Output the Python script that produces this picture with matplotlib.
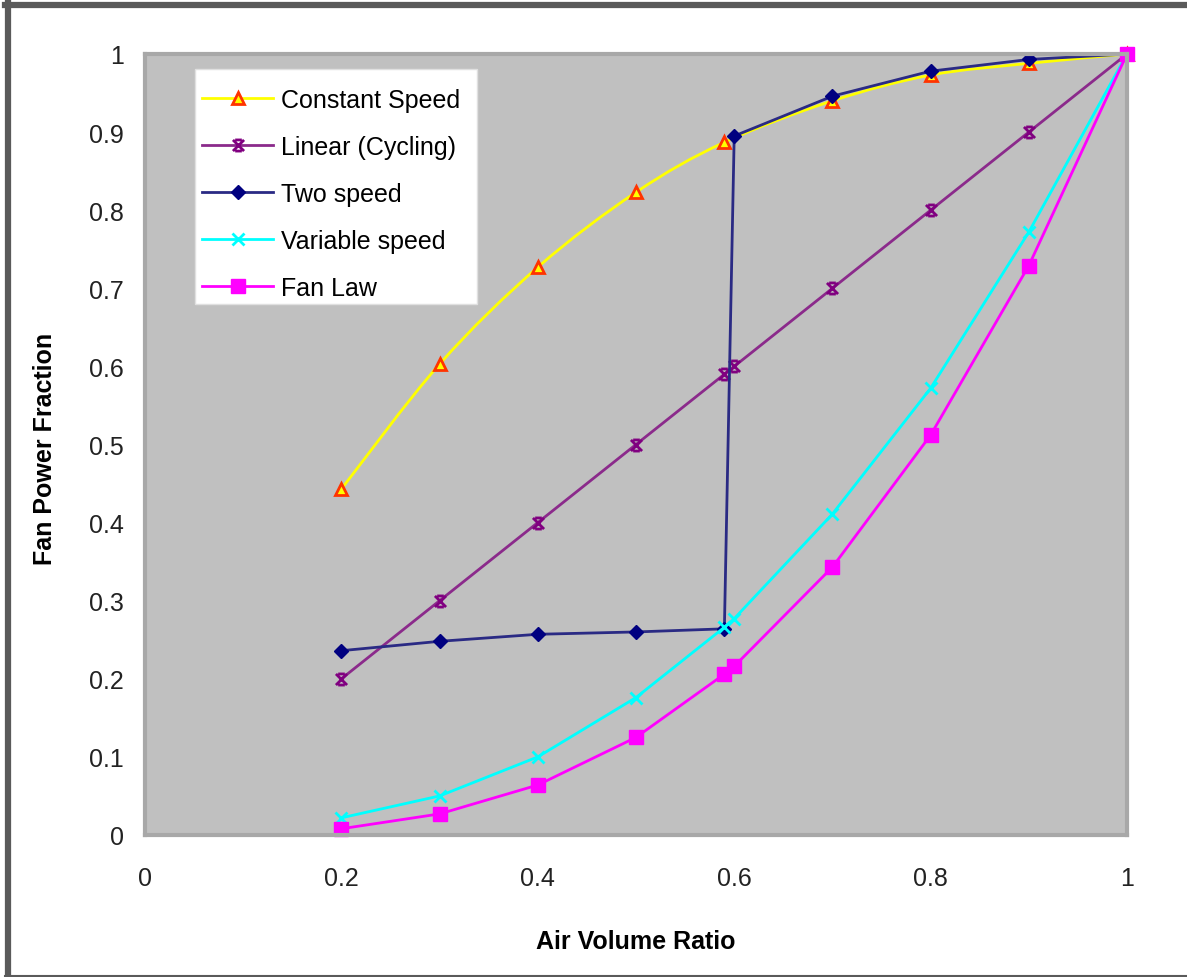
import numpy as np
import matplotlib
matplotlib.use("Agg")
import matplotlib.pyplot as plt
from matplotlib.lines import Line2D
from matplotlib.path import Path
from matplotlib.patches import PathPatch, Rectangle

plt.rcParams['font.family'] = ['Liberation Sans', 'DejaVu Sans']

# --- data ---
x_const = [0.2, 0.3, 0.4, 0.5, 0.59, 0.7, 0.8, 0.9, 1.0]
y_const = [0.443, 0.603, 0.727, 0.823, 0.887, 0.940, 0.973, 0.988, 1.0]

x_lin = [0.2, 0.3, 0.4, 0.5, 0.59, 0.6, 0.7, 0.8, 0.9, 1.0]
y_lin = [0.2, 0.3, 0.4, 0.5, 0.59, 0.6, 0.7, 0.8, 0.9, 1.0]

x_two = [0.2, 0.3, 0.4, 0.5, 0.59, 0.6, 0.7, 0.8, 0.9, 1.0]
y_two = [0.236, 0.248, 0.257, 0.260, 0.264, 0.895, 0.946, 0.978, 0.993, 1.0]

x_var = [0.2, 0.3, 0.4, 0.5, 0.59, 0.6, 0.7, 0.8, 0.9, 1.0]
y_var = [0.022, 0.050, 0.100, 0.176, 0.266, 0.277, 0.411, 0.572, 0.772, 1.0]

x_fan = [0.2, 0.3, 0.4, 0.5, 0.59, 0.6, 0.7, 0.8, 0.9, 1.0]
y_fan = [0.008, 0.027, 0.064, 0.125, 0.206, 0.216, 0.343, 0.512, 0.729, 1.0]

labels = ["Constant Speed", "Linear (Cycling)", "Two speed", "Variable speed", "Fan Law"]
xticks = [0, 0.2, 0.4, 0.6, 0.8, 1]
xticklabels = ["0", "0.2", "0.4", "0.6", "0.8", "1"]
yticks = [0, 0.1, 0.2, 0.3, 0.4, 0.5, 0.6, 0.7, 0.8, 0.9, 1]
yticklabels = ["0", "0.1", "0.2", "0.3", "0.4", "0.5", "0.6", "0.7", "0.8", "0.9", "1"]

# Excel style "star" marker: X with bars top and bottom
star = Path([(-1, -1), (1, 1), (-1, 1), (1, -1), (-0.6, 1), (0.6, 1), (-0.6, -1), (0.6, -1)],
            [Path.MOVETO, Path.LINETO, Path.MOVETO, Path.LINETO,
             Path.MOVETO, Path.LINETO, Path.MOVETO, Path.LINETO])


def smooth_path(xs, ys):
    # Excel-like smoothed line: cubic bezier through the points
    p = np.column_stack([xs, ys])
    ext = np.vstack([p[0], p, p[-1]])
    verts = [p[0]]
    codes = [Path.MOVETO]
    for i in range(len(p) - 1):
        c1 = ext[i + 1] + (ext[i + 2] - ext[i]) / 6
        c2 = ext[i + 2] - (ext[i + 3] - ext[i + 1]) / 6
        verts += [c1, c2, p[i + 1]]
        codes += [Path.CURVE4] * 3
    return Path(verts, codes)


W, H = 1187, 978
L, R, T, B = 145, 1127, 55, 836  # plot area in pixels
fig = plt.figure(figsize=(W / 100, H / 100), dpi=100)
fig.patch.set_facecolor("white")
ax = fig.add_axes([L / W, 1 - B / H, (R - L) / W, (B - T) / H])
ax.set_facecolor("#c0c0c0")


def px(x, y):
    # pixel position -> axes fraction
    return (x - L) / (R - L), (B - y) / (B - T)


lw = 2.0
styles = [
    dict(color="#ffff00", lw=lw, marker="^", ms=8, mfc="#ffff00", mec="#ff3300", mew=2),
    dict(color="#8b2a8b", lw=lw, marker=star, ms=8, mec="#800080", mew=2),
    dict(color="#2a2a84", lw=lw, marker="D", ms=7.5, mfc="#000080", mec="#000080"),
    dict(color="#00ffff", lw=lw, marker="x", ms=9, mec="#00ffff", mew=2),
    dict(color="#ff00ff", lw=lw, marker="s", ms=9.5, mfc="#ff00ff", mec="#ff00ff"),
]

# constant speed: smoothed line, markers on top
ax.add_patch(PathPatch(smooth_path(x_const, y_const), fill=False,
                       edgecolor=styles[0]["color"], lw=lw, clip_on=False))
st = dict(styles[0]); st.pop("color"); st.pop("lw")
ax.plot(x_const, y_const, ls="none", clip_on=False, **st)

ax.plot(x_lin, y_lin, clip_on=False, **styles[1])
ax.plot(x_two, y_two, clip_on=False, **styles[2])
ax.plot(x_var, y_var, clip_on=False, **styles[3])
ax.plot(x_fan, y_fan, clip_on=False, **styles[4])

ax.set_xlim(0, 1)
ax.set_ylim(0, 1)
ax.set_xticks(xticks)
ax.set_xticklabels(xticklabels)
ax.set_yticks(yticks)
ax.set_yticklabels(yticklabels)
ax.tick_params(axis="both", length=0, labelsize=18, colors="#222222")
ax.tick_params(axis="x", pad=22)
ax.tick_params(axis="y", pad=15)
for s in ax.spines.values():
    s.set_color("#a8a8a8")
    s.set_linewidth(3)

ax.set_xlabel("Air Volume Ratio", fontsize=18, fontweight="bold")
ax.set_ylabel("Fan Power Fraction", fontsize=18, fontweight="bold")
ax.xaxis.set_label_coords(0.5, -0.1204)
ax.yaxis.set_label_coords(-0.0896, 0.495)

# legend box
x0, y0 = px(195, 305)
x1, y1 = px(477, 70)
ax.add_patch(Rectangle((x0, y0), x1 - x0, y1 - y0, transform=ax.transAxes,
                       facecolor="white", edgecolor="#e0e0e0", lw=1, zorder=4.9))
handles = [Line2D([], [], **s) for s in styles]
leg = ax.legend(handles, labels, loc="upper left", bbox_to_anchor=px(202, 89), fontsize=18,
                frameon=False, handlelength=2.85, handletextpad=0.3, labelspacing=0.92,
                borderpad=0, borderaxespad=0)

# outer chart border
fig.add_artist(Line2D([8 / W, 8 / W], [0, 1 - 3 / H], transform=fig.transFigure,
                      color="#5a5a5a", lw=4.5))
fig.add_artist(Line2D([5 / W, 1], [1 - 6 / H, 1 - 6 / H], transform=fig.transFigure,
                      color="#5a5a5a", lw=4.5))
fig.add_artist(Line2D([5 / W, 1], [1 / H, 1 / H], transform=fig.transFigure,
                      color="#5a5a5a", lw=1.5))

fig.savefig("out.png", dpi=100)
